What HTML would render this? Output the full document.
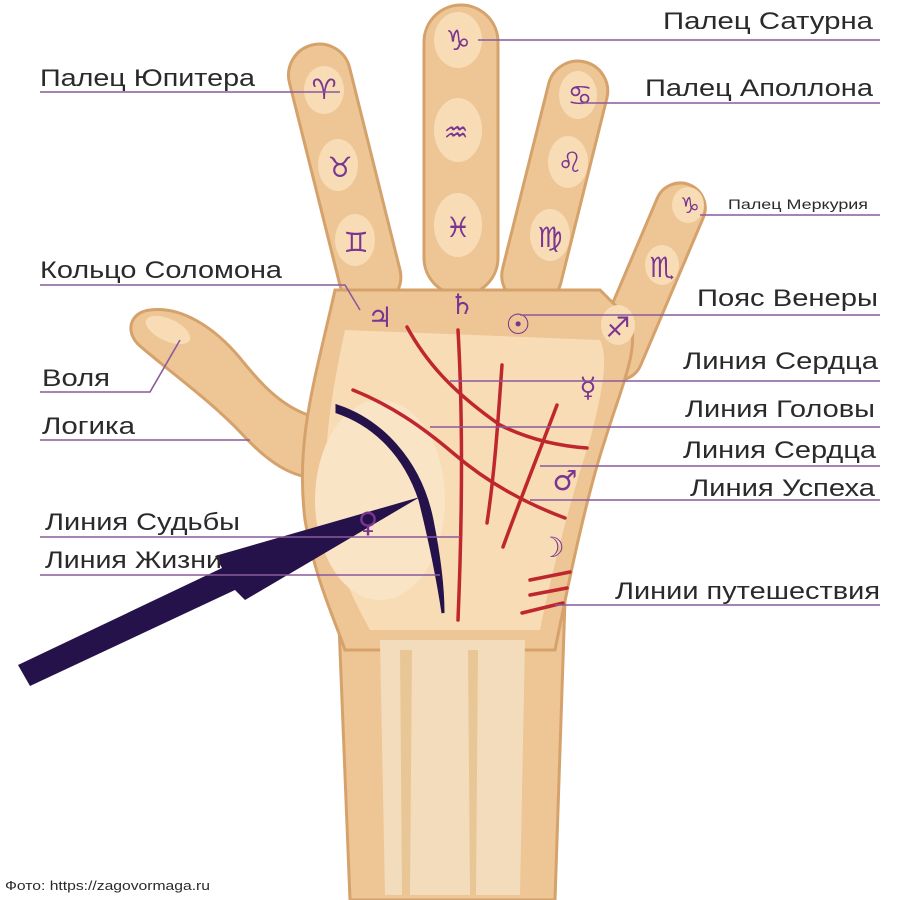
<!DOCTYPE html>
<html><head><meta charset="utf-8"><style>
html,body{margin:0;padding:0;background:#fff;}
svg{display:block}
text{font-family:"Liberation Sans","DejaVu Sans",sans-serif;fill:#2a2a2a}
.z{font-family:"DejaVu Sans",sans-serif;fill:#7a3590;font-size:28px;text-anchor:middle;font-weight:bold}
</style></head><body>
<svg width="900" height="900" viewBox="0 0 900 900" xmlns="http://www.w3.org/2000/svg">
<g fill="#eec595" stroke="#d6a26b" stroke-width="3">
<path d="M338,600 L565,600 L555,900 L350,900 Z"/>
<rect x="-31" y="0" width="62" height="270" rx="31" transform="translate(312,45) rotate(-14)"/>
<rect x="424" y="5" width="74" height="290" rx="37"/>
<rect x="-30" y="0" width="60" height="250" rx="30" transform="translate(585,62) rotate(14)"/>
<rect x="-25" y="0" width="50" height="210" rx="25" transform="translate(690,185) rotate(23)"/>
<path d="M150,310 C182,306 215,328 240,358 C260,383 280,405 308,415 L318,478 C292,478 268,462 243,435 C210,400 170,372 140,346 C124,332 130,312 150,310 Z"/>
<path d="M335,290 C315,380 295,440 305,520 C315,580 335,620 345,650 L555,650 C565,600 585,500 605,440 C620,390 640,350 630,320 L600,290 Z"/>
</g>
<path d="M380,640 L525,640 L520,895 L385,895 Z" fill="#f3dcbc"/>
<g fill="#e9c696">
<path d="M400,650 L412,650 L410,895 L402,895 Z"/>
<path d="M468,650 L478,650 L476,895 L470,895 Z"/>
</g>
<path d="M345,330 C330,400 320,460 330,520 C340,580 360,610 370,630 L540,630 C550,580 570,500 590,440 C600,400 610,360 600,340 Z" fill="#f7dcb6"/>
<ellipse cx="380" cy="500" rx="65" ry="100" fill="#f9e4c6"/>
<g fill="#f7dcb6">
<ellipse cx="324" cy="90" rx="20" ry="24"/><ellipse cx="338" cy="165" rx="20" ry="26"/><ellipse cx="355" cy="240" rx="20" ry="26"/>
<ellipse cx="458" cy="40" rx="24" ry="28"/><ellipse cx="458" cy="130" rx="24" ry="32"/><ellipse cx="458" cy="225" rx="24" ry="32"/>
<ellipse cx="578" cy="95" rx="19" ry="24"/><ellipse cx="568" cy="162" rx="20" ry="26"/><ellipse cx="550" cy="235" rx="20" ry="26"/>
<ellipse cx="688" cy="205" rx="16" ry="18"/><ellipse cx="662" cy="265" rx="17" ry="20"/><ellipse cx="618" cy="325" rx="17" ry="20"/>
<ellipse cx="168" cy="330" rx="24" ry="11" transform="rotate(25 168 330)"/>
</g>
<g fill="none" stroke="#c0262e" stroke-width="3.5" stroke-linecap="round">
<path d="M407,327 C425,360 450,390 500,425 C530,440 560,446 587,448"/>
<path d="M458,330 C462,400 463,500 458,620"/>
<path d="M502,365 C498,420 495,470 487,523"/>
<path d="M557,405 C540,450 520,500 503,547"/>
<path d="M353,390 C390,405 420,425 453,453 C490,485 530,505 565,518"/>
<path d="M530,580 L570,572 M530,595 L567,588 M522,613 L563,603"/>
</g>
<path d="M337,406 C380,420 420,460 432,520 C440,560 443,590 443,613 C438,580 430,540 420,500 C405,455 375,425 337,412 Z" fill="#26124a" stroke="#26124a" stroke-width="3"/>
<polygon points="18,665 222,568 215,556 420,497 245,600 235,590 30,686" fill="#26124a"/>
<text class="z" x="458" y="50">♑</text>
<text class="z" x="324" y="99">♈</text>
<text class="z" x="456" y="142">♒</text>
<text class="z" x="340" y="177">♉</text>
<text class="z" x="458" y="237">♓</text>
<text class="z" x="356" y="252">♊</text>
<text class="z" x="580" y="105">♋</text>
<text class="z" x="570" y="172">♌</text>
<text class="z" x="550" y="247">♍</text>
<text class="z" x="690" y="213" style="font-size:22px">♑</text>
<text class="z" x="662" y="277">♏</text>
<text class="z" x="618" y="337">♐</text>
<text class="z" x="380" y="327">♃</text>
<text class="z" x="462" y="314">♄</text>
<text class="z" x="518" y="334">☉</text>
<text class="z" x="588" y="397">☿</text>
<text class="z" x="565" y="490">♂</text>
<text class="z" x="552" y="557">☽</text>
<text class="z" x="368" y="532">♀</text>
<g stroke="#8a5a9c" stroke-width="1.6" fill="none">
<path d="M478,40 H880"/><path d="M40,92 H340"/><path d="M580,103 H880"/><path d="M700,215 H880"/>
<path d="M40,285 H345 L360,310"/><path d="M520,315 H880"/><path d="M40,392 H150 L180,340"/>
<path d="M450,381 H880"/><path d="M40,440 H250"/><path d="M430,427 H880"/><path d="M540,466 H880"/>
<path d="M530,500 H880"/><path d="M40,537 H460"/><path d="M40,575 H440"/><path d="M555,605 H880"/>
</g>
<g font-size="24">
<text x="663" y="29" textLength="210" lengthAdjust="spacingAndGlyphs">Палец Сатурна</text>
<text x="40" y="86" textLength="215" lengthAdjust="spacingAndGlyphs">Палец Юпитера</text>
<text x="645" y="96" textLength="228" lengthAdjust="spacingAndGlyphs">Палец Аполлона</text>
<text x="728" y="209" font-size="14" textLength="140" lengthAdjust="spacingAndGlyphs">Палец Меркурия</text>
<text x="40" y="278" textLength="242" lengthAdjust="spacingAndGlyphs">Кольцо Соломона</text>
<text x="697" y="306" textLength="181" lengthAdjust="spacingAndGlyphs">Пояс Венеры</text>
<text x="42" y="386" textLength="68" lengthAdjust="spacingAndGlyphs">Воля</text>
<text x="683" y="369" textLength="195" lengthAdjust="spacingAndGlyphs">Линия Сердца</text>
<text x="42" y="434" textLength="93" lengthAdjust="spacingAndGlyphs">Логика</text>
<text x="685" y="417" textLength="190" lengthAdjust="spacingAndGlyphs">Линия Головы</text>
<text x="683" y="458" textLength="193" lengthAdjust="spacingAndGlyphs">Линия Сердца</text>
<text x="690" y="496" textLength="185" lengthAdjust="spacingAndGlyphs">Линия Успеха</text>
<text x="45" y="530" textLength="195" lengthAdjust="spacingAndGlyphs">Линия Судьбы</text>
<text x="45" y="568" textLength="177" lengthAdjust="spacingAndGlyphs">Линия Жизни</text>
<text x="615" y="599" textLength="265" lengthAdjust="spacingAndGlyphs">Линии путешествия</text>
<text x="5" y="890" font-size="13" textLength="205" lengthAdjust="spacingAndGlyphs">Фото: https://zagovormaga.ru</text>
</g>
</svg>
</body></html>
